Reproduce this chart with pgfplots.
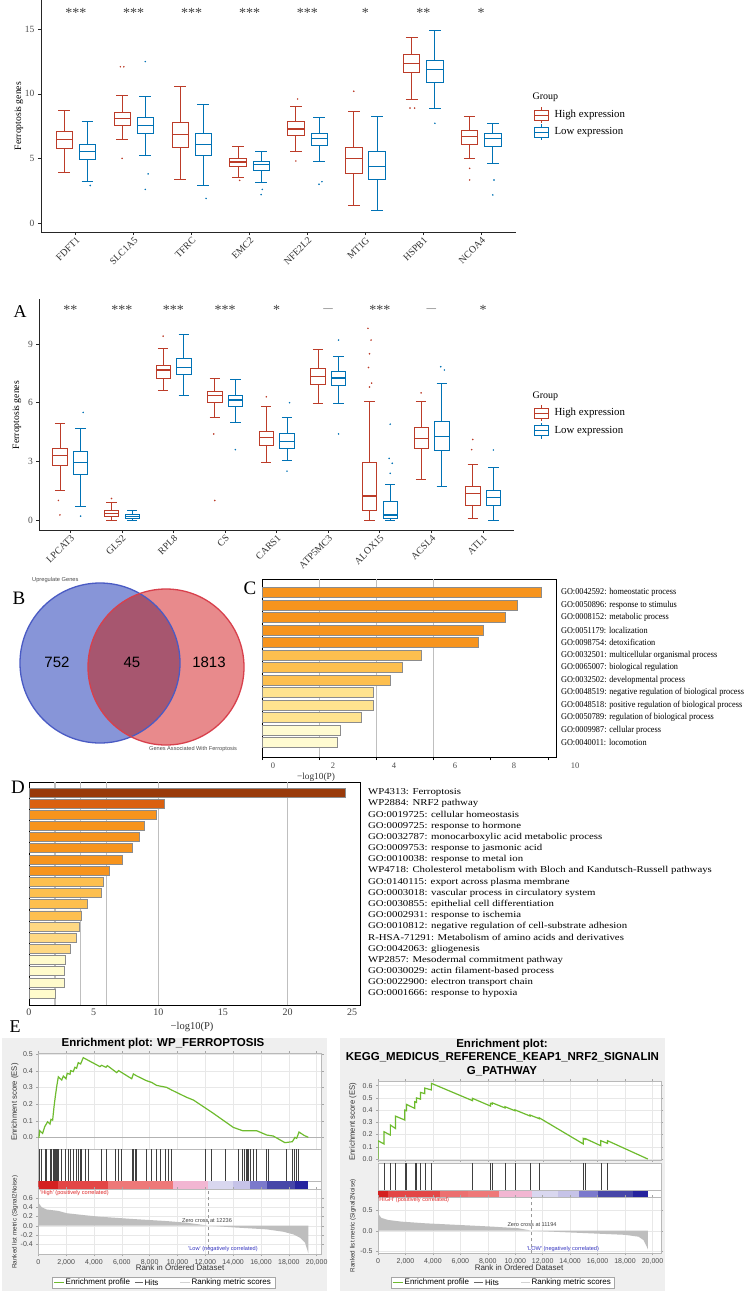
\documentclass[border=0pt]{standalone}
\usepackage{pgfplots}
\pgfplotsset{compat=1.18}
\usepgfplotslibrary{statistics}
\usepackage{fontspec}
\setmainfont{Liberation Serif}
\newfontfamily\arial{Liberation Sans}
\newcommand{\fs}[1]{\fontsize{#1}{#1}\selectfont}
\definecolor{nred}{HTML}{BC3C29}
\definecolor{nblue}{HTML}{0072B5}
\definecolor{cO}{HTML}{F7941D}
\definecolor{cM}{HTML}{FDBF4F}
\definecolor{cL}{HTML}{FFE38F}
\definecolor{cP}{HTML}{FFFBD1}
\definecolor{d1}{HTML}{993A0A}
\definecolor{d2}{HTML}{DA6010}
\definecolor{d5}{HTML}{FED883}
\definecolor{d6}{HTML}{FFFBCC}
\definecolor{vblue}{HTML}{8795D8}
\definecolor{vred}{HTML}{E88A8C}
\definecolor{vmix}{HTML}{A7566F}
\definecolor{vbluel}{HTML}{4A5BC4}
\definecolor{vredl}{HTML}{D8404C}
\definecolor{ggreen}{HTML}{6EBB2E}
\definecolor{gbg}{HTML}{EFEFEF}
\definecolor{rk}{HTML}{BEBEBE}
\definecolor{ca}{HTML}{D42020}
\definecolor{cb}{HTML}{E34646}
\definecolor{cc}{HTML}{EE7878}
\definecolor{cd}{HTML}{F2B6D2}
\definecolor{ce}{HTML}{D9D7EF}
\definecolor{cf}{HTML}{C6C3E8}
\definecolor{cg}{HTML}{7B79CC}
\definecolor{ch}{HTML}{4746A8}
\definecolor{ci}{HTML}{26239E}
\definecolor{hired}{HTML}{E02828}
\definecolor{loblue}{HTML}{3535C0}
\newcommand{\bx}[7]{\addplot[#1, line width=0.8pt, boxplot prepared={draw position=#2, lower whisker=#3, lower quartile=#4, median=#5, upper quartile=#6, upper whisker=#7}] coordinates {};}
\newcommand{\st}[3]{\node[font=\fs{14}, anchor=base, text=black!75] at (axis cs:#1,#2) {#3};}
\pgfplotsset{
 bxax/.style={scale only axis, axis x line*=bottom, axis y line*=left,
  axis line style={black!85, line width=0.9pt}, tick style={black!85, line width=0.7pt},
  tick align=outside, major tick length=3pt,
  x tick label style={rotate=45, anchor=north east, font=\fs{9.8}, text=black!80, inner sep=0.8pt},
  y tick label style={font=\fs{9.5}, text=black!70},
  /pgf/number format/assume math mode=true,
  boxplot/draw direction=y, boxplot/box extend=0.28, boxplot/whisker extend=0.2,
  boxplot/every median/.style={line width=1.5pt}},
 gsea/.style={scale only axis, xmin=0, axis background/.style={fill=white},
  axis line style={gray!55, line width=0.5pt}, tick style={gray!70, line width=0.4pt},
  major tick length=2pt, tick align=outside, grid=major, grid style={gray!18, line width=0.4pt},
  tick label style={font=\arial\fs{7}, text=black!70},
  /pgf/number format/assume math mode=true, xtick={0,2,4,6,8,10,12,14,16,18,20}, xticklabels={}},
 nol/.style={ytick=\empty, xtick=\empty, grid=none}
}
\begin{document}
\begin{tikzpicture}[x=1pt,y=1pt]
\useasboundingbox (0,0) rectangle (751,-1291);
\fill[white] (0,0) rectangle (751,-1291);

% ---------- Panel 1 ----------
\begin{axis}[bxax, at={(41pt,-232pt)}, anchor=south west, width=475pt, height=232pt,
 xmin=0.4, xmax=8.6, ymin=-0.7, ymax=17.27, xtick={1,...,8},
 xticklabels={FDFT1,SLC1A5,TFRC,EMC2,NFE2L2,MT1G,HSPB1,NCOA4}, ytick={0,5,10,15}]
\bx{nred}{0.8}{3.9}{5.78}{6.48}{7.07}{8.75}
\bx{nblue}{1.2}{3.2}{4.93}{5.53}{6.12}{7.9}
\bx{nred}{1.8}{6.48}{7.57}{8.1}{8.55}{9.91}
\bx{nblue}{2.2}{5.27}{6.95}{7.54}{8.18}{9.79}
\bx{nred}{2.8}{3.41}{5.84}{6.87}{7.82}{10.6}
\bx{nblue}{3.2}{2.94}{5.22}{6.09}{6.92}{9.17}
\bx{nred}{3.8}{3.56}{4.42}{4.72}{4.98}{5.91}
\bx{nblue}{4.2}{3.18}{4.08}{4.52}{4.78}{5.58}
\bx{nred}{4.8}{5.55}{6.79}{7.26}{7.9}{9.01}
\bx{nblue}{5.2}{4.8}{6.02}{6.56}{6.95}{8.16}
\bx{nred}{5.8}{1.34}{3.87}{4.98}{5.86}{8.65}
\bx{nblue}{6.2}{0.96}{3.38}{4.36}{5.55}{8.24}
\bx{nred}{6.8}{9.58}{11.64}{12.37}{13.07}{14.36}
\bx{nblue}{7.2}{8.91}{10.87}{11.9}{12.6}{14.92}
\bx{nred}{7.8}{4.98}{6.12}{6.69}{7.15}{8.24}
\bx{nblue}{8.2}{4.62}{5.96}{6.56}{6.95}{7.72}
\addplot[only marks, mark=*, mark size=0.55pt, nred, mark options={draw=none, fill=nred}] coordinates {(1.77,12.1)(1.83,12.1)(1.8,5.0)(3.83,3.3)(4.83,9.6)(4.8,4.8)(5.8,10.2)(6.77,8.9)(6.85,8.9)(7.8,4.23)(7.8,3.33)};
\addplot[only marks, mark=*, mark size=0.55pt, nblue, mark options={draw=none, fill=nblue}] coordinates {(1.25,2.9)(2.2,12.5)(2.25,3.8)(2.2,2.6)(3.25,1.9)(4.2,2.2)(4.22,2.6)(5.2,3.0)(5.25,3.2)(7.2,7.72)(8.2,2.17)(8.22,3.33)};
\st{1}{15.91}{***}\st{2}{15.91}{***}\st{3}{15.91}{***}\st{4}{15.91}{***}
\st{5}{15.91}{***}\st{6}{15.91}{*}\st{7}{15.91}{**}\st{8}{15.91}{*}
\end{axis}
\node[rotate=90, font=\fs{9.7}] at (19,-116) {Ferroptosis genes};
\node[anchor=west, font=\fs{10}] at (529,-97) {Group};
\foreach \yy/\cc/\tt in {115/nred/High expression,132/nblue/Low expression}{
 \draw[\cc, line width=0.8pt] (534,-\yy+5) rectangle (548,-\yy-5);
 \draw[\cc, line width=0.8pt] (534,-\yy) -- (548,-\yy);
 \draw[\cc, line width=0.8pt] (541,-\yy+5) -- (541,-\yy+8);
 \draw[\cc, line width=0.8pt] (541,-\yy-5) -- (541,-\yy-8);
 \node[anchor=west, font=\fs{10.8}] at (551,-\yy) {\tt};}

% ---------- Panel 2 (A) ----------
\begin{axis}[bxax, at={(39.3pt,-530pt)}, anchor=south west, width=474.7pt, height=231pt,
 xmin=0.4, xmax=9.6, ymin=-0.51, ymax=11.3, xtick={1,...,9},
 xticklabels={LPCAT3,GLS2,RPL8,CS,CARS1,ATP5MC3,ALOX15,ACSL4,ATL1}, ytick={0,3,6,9}]
\bx{nred}{0.8}{1.5}{2.78}{3.29}{3.66}{4.94}
\bx{nblue}{1.2}{0.68}{2.35}{2.95}{3.49}{4.69}
\bx{nred}{1.8}{0.0}{0.17}{0.34}{0.51}{0.9}
\bx{nblue}{2.2}{0.0}{0.07}{0.17}{0.29}{0.51}
\bx{nred}{2.8}{6.61}{7.26}{7.67}{7.89}{8.76}
\bx{nblue}{3.2}{6.36}{7.45}{7.81}{8.27}{9.49}
\bx{nred}{3.8}{5.27}{6.02}{6.36}{6.56}{7.24}
\bx{nblue}{4.2}{4.99}{5.8}{6.14}{6.37}{7.18}
\bx{nred}{4.8}{2.93}{3.84}{4.21}{4.52}{5.8}
\bx{nblue}{5.2}{3.07}{3.66}{4.01}{4.41}{5.23}
\bx{nred}{5.8}{5.97}{6.95}{7.33}{7.74}{8.74}
\bx{nblue}{6.2}{5.97}{6.89}{7.26}{7.6}{8.35}
\bx{nred}{6.8}{0.0}{0.48}{1.23}{2.95}{6.05}
\bx{nblue}{7.2}{0.0}{0.09}{0.26}{0.94}{1.82}
\bx{nred}{7.8}{2.08}{3.66}{4.18}{4.74}{6.05}
\bx{nblue}{8.2}{1.7}{3.58}{4.26}{5.03}{6.99}
\bx{nred}{8.8}{0.09}{0.77}{1.36}{1.74}{2.85}
\bx{nblue}{9.2}{0.0}{0.73}{1.14}{1.52}{2.69}
\addplot[only marks, mark=*, mark size=0.55pt, nred, mark options={draw=none, fill=nred}] coordinates {(0.8,0.26)(0.77,1.0)(1.8,1.1)(2.8,9.4)(3.8,1.0)(3.78,4.4)(4.8,6.3)(6.77,9.8)(6.83,9.2)(6.8,8.5)(6.78,7.8)(6.84,7.0)(6.8,6.8)(7.8,6.5)(8.8,4.12)(8.78,3.6)};
\addplot[only marks, mark=*, mark size=0.55pt, nblue, mark options={draw=none, fill=nblue}] coordinates {(1.25,5.5)(1.2,0.2)(4.2,3.6)(5.2,2.5)(5.25,6.0)(6.2,9.2)(6.2,4.4)(7.2,4.9)(7.18,3.15)(7.24,2.9)(7.2,2.39)(8.18,7.84)(8.25,7.67)(9.2,3.58)};
\st{1}{10.5}{**}\st{2}{10.5}{***}\st{3}{10.5}{***}\st{4}{10.5}{***}\st{5}{10.5}{*}
\st{7}{10.5}{***}\st{9}{10.5}{*}
\node[font=\fs{9.5}, anchor=base, text=black!75] at (axis cs:6,10.66) {—};
\node[font=\fs{9.5}, anchor=base, text=black!75] at (axis cs:8,10.66) {—};
\end{axis}
\node[rotate=90, font=\fs{9.7}] at (17,-415) {Ferroptosis genes};
\node[font=\fs{18}] at (20,-312) {A};
\node[anchor=west, font=\fs{10}] at (529,-396) {Group};
\foreach \yy/\cc/\tt in {413.3/nred/High expression,430.7/nblue/Low expression}{
 \draw[\cc, line width=0.8pt] (534,-\yy+5) rectangle (548,-\yy-5);
 \draw[\cc, line width=0.8pt] (534,-\yy) -- (548,-\yy);
 \draw[\cc, line width=0.8pt] (541,-\yy+5) -- (541,-\yy+8);
 \draw[\cc, line width=0.8pt] (541,-\yy-5) -- (541,-\yy-8);
 \node[anchor=west, font=\fs{10.8}] at (551,-\yy) {\tt};}

% ---------- Panel B (Venn) ----------
\fill[vblue] (100,-663) circle[radius=80pt];
\fill[vred] (166,-667) circle[radius=78pt];
\begin{scope}
\clip (100,-663) circle[radius=80pt];
\fill[vmix] (166,-667) circle[radius=78pt];
\end{scope}
\draw[vbluel, line width=1.3pt] (100,-663) circle[radius=80pt];
\draw[vredl, line width=1.3pt] (166,-667) circle[radius=78pt];
\node[font=\arial\fs{15}] at (57,-662) {752};
\node[font=\arial\fs{15}] at (132,-662) {45};
\node[font=\arial\fs{15}] at (209,-662) {1813};
\node[font=\arial\fs{5.7}, text=black!70, anchor=west, inner sep=0] at (32,-580) {Upregulate Genes};
\node[font=\arial\fs{5.6}, text=black!70, anchor=west, inner sep=0] at (149,-749.3) {Genes Associated With Ferroptosis};
\node[font=\fs{19}] at (19,-598.3) {B};
\node[font=\fs{19}] at (250,-588) {C};

% ---------- Panel C ----------
\begin{axis}[scale only axis, at={(262pt,-757pt)}, anchor=south west, width=294pt, height=178pt,
 xmin=0, xmax=10.28, ymin=-0.1, ymax=14.14, y dir=reverse, xbar, bar width=10pt, bar shift=0pt,
 axis line style={black, line width=0.8pt}, xtick={0,2,4,6,8,10}, xticklabels={}, xtick pos=left,
 tick align=outside, major tick length=3pt, xtick style={black, line width=0.6pt},
 ytick={1,...,13}, yticklabel pos=right, ytick style={draw=none},
 yticklabels={GO:0042592: homeostatic process,GO:0050896: response to stimulus,GO:0008152: metabolic process,GO:0051179: localization,GO:0098754: detoxification,GO:0032501: multicellular organismal process,GO:0065007: biological regulation,GO:0032502: developmental process,GO:0048519: negative regulation of biological process,GO:0048518: positive regulation of biological process,GO:0050789: regulation of biological process,GO:0009987: cellular process,GO:0040011: locomotion},
 y tick label style={font=\fs{9}, xscale=0.92, anchor=west, inner sep=0pt, xshift=2pt},
 extra x ticks={2,4,6}, extra x tick labels={}, extra x tick style={grid=major, major tick length=0pt},
 major grid style={black!25, line width=1.3pt}]
\addplot[fill=cO, draw=black!45, line width=0.8pt] coordinates {(9.78,1)(8.94,2)(8.50,3)(7.74,4)(7.56,5)};
\addplot[fill=cM, draw=black!45, line width=0.8pt] coordinates {(5.58,6)(4.91,7)(4.49,8)};
\addplot[fill=cL, draw=black!45, line width=0.8pt] coordinates {(3.90,9)(3.90,10)(3.46,11)};
\addplot[fill=cP, draw=black!45, line width=0.8pt] coordinates {(2.73,12)(2.63,13)};
\end{axis}
\foreach \xx/\tt in {273/0,333/2,394/4,455/6,514/8,575/10}{
 \node[font=\fs{8.5}, text=black!70] at (\xx,-766) {\tt};}
\node[font=\fs{9.3}, text=black!80] at (316,-777) {−log10(P)};

% ---------- Panel D ----------
\begin{axis}[scale only axis, at={(29pt,-1005pt)}, anchor=south west, width=331pt, height=223pt,
 xmin=0, xmax=25.6, ymin=0.06, ymax=20.02, y dir=reverse, xbar, bar width=9pt, bar shift=0pt,
 axis line style={black, line width=0.8pt}, xtick={0,5,10,15,20,25}, xtick style={draw=none},
 x tick label style={font=\fs{10}, text=black!75}, /pgf/number format/assume math mode=true,
 ytick={1,...,19}, yticklabel pos=right, ytick style={draw=none},
 yticklabels={WP4313: Ferroptosis,WP2884: NRF2 pathway,GO:0019725: cellular homeostasis,GO:0009725: response to hormone,GO:0032787: monocarboxylic acid metabolic process,GO:0009753: response to jasmonic acid,GO:0010038: response to metal ion,WP4718: Cholesterol metabolism with Bloch and Kandutsch-Russell pathways,GO:0140115: export across plasma membrane,GO:0003018: vascular process in circulatory system,GO:0030855: epithelial cell differentiation,GO:0002931: response to ischemia,GO:0010812: negative regulation of cell-substrate adhesion,R-HSA-71291: Metabolism of amino acids and derivatives,GO:0042063: gliogenesis,WP2857: Mesodermal commitment pathway,GO:0030029: actin filament-based process,GO:0022900: electron transport chain,GO:0001666: response to hypoxia},
 y tick label style={font=\fs{9}, xscale=1.2, anchor=west, inner sep=0pt, xshift=3pt},
 extra x ticks={2,4,6,10,20}, extra x tick labels={}, extra x tick style={grid=major},
 major grid style={black!25, line width=1.3pt}]
\addplot[fill=d1, draw=black!45, line width=0.8pt] coordinates {(24.5,1)};
\addplot[fill=d2, draw=black!45, line width=0.8pt] coordinates {(10.49,2)};
\addplot[fill=cO, draw=black!45, line width=0.8pt] coordinates {(9.82,3)(8.94,4)(8.5,5)(7.96,6)(7.21,7)(6.18,8)};
\addplot[fill=cM, draw=black!45, line width=0.8pt] coordinates {(5.72,9)(5.59,10)(4.5,11)(4.09,12)};
\addplot[fill=d5, draw=black!45, line width=0.8pt] coordinates {(3.91,13)(3.65,14)(3.24,15)};
\addplot[fill=d6, draw=black!45, line width=0.8pt] coordinates {(2.83,16)(2.75,17)(2.7,18)(2.08,19)};
\end{axis}
\node[font=\fs{19}] at (18,-787) {D};
\node[font=\fs{10.5}, text=black!80] at (192,-1027) {−log10(P)};
\node[font=\fs{18}] at (15,-1027) {E};

% ---------- Panel E ----------
\fill[gbg] (2,-1038) rectangle (327,-1291);
\fill[gbg] (340,-1038) rectangle (665,-1291);
\node[font=\arial\bfseries\fs{11.5}] at (163,-1044) {Enrichment plot: WP\_FERROPTOSIS};
\node[font=\arial\bfseries\fs{11.5}] at (502,-1044.3) {Enrichment plot:};
\node[font=\arial\bfseries\fs{11.5}] at (502.5,-1057) {KEGG\_MEDICUS\_REFERENCE\_KEAP1\_NRF2\_SIGNALIN};
\node[font=\arial\bfseries\fs{11.5}] at (502,-1070.7) {G\_PATHWAY};

% left ES
\begin{axis}[gsea, at={(38.3pt,-1149.3pt)}, anchor=south west, width=283.4pt, height=96.3pt,
 xmax=20.36, ymin=-0.072, ymax=0.508, ytick={0,0.1,0.2,0.3,0.4,0.5}, yticklabels={0.0,0.1,0.2,0.3,0.4,0.5}]
\addplot[gray!60, line width=0.6pt] coordinates {(0,0)(20.36,0)};
\addplot[ggreen, line width=1.2pt] coordinates {(0,0)(0.05,0.0)(0.10,0.040)(0.31,0.024)(0.46,0.064)(0.67,0.094)(0.84,0.080)(0.91,0.108)(1.03,0.104)(1.13,0.185)(1.22,0.245)(1.32,0.305)(1.44,0.365)(1.68,0.345)(1.80,0.369)(1.99,0.353)(2.08,0.386)(2.28,0.380)(2.32,0.402)(2.51,0.396)(2.63,0.422)(2.75,0.416)(2.87,0.450)(3.04,0.442)(3.23,0.480)(4.43,0.426)(4.55,0.434)(4.86,0.422)(4.96,0.432)(5.63,0.390)(5.77,0.402)(6.71,0.353)(6.83,0.382)(7.07,0.370)(7.78,0.341)(8.14,0.331)(8.50,0.313)(9.22,0.301)(9.58,0.285)(10.66,0.241)(11.14,0.225)(12.57,0.145)(14.01,0.060)(14.68,0.040)(15.69,0.040)(16.41,0.014)(16.88,0.008)(17.72,-0.032)(18.25,-0.026)(18.44,0.0)(18.56,-0.006)(18.73,0.032)(19.09,0.012)(19.40,0.0)};
\end{axis}
\begin{axis}[gsea, nol, at={(38.3pt,-1181pt)}, anchor=south west, width=283.4pt, height=31.7pt, xmax=20.36, ymin=0, ymax=1]
\addplot[ycomb, black!75, line width=0.5pt, mark=none] coordinates {(0.07,1)(0.24,1)(0.48,1)(0.60,1)(0.84,1)(0.96,1)(1.08,1)(1.15,1)(1.20,1)(1.27,1)(1.32,1)(1.37,1)(1.44,1)(1.68,1)(1.92,1)(2.16,1)(2.28,1)(2.51,1)(2.71,1)(2.87,1)(2.99,1)(3.11,1)(3.35,1)(3.59,1)(4.55,1)(4.86,1)(5.51,1)(5.75,1)(5.99,1)(6.78,1)(6.83,1)(6.95,1)(7.07,1)(7.78,1)(8.14,1)(8.50,1)(8.74,1)(9.10,1)(9.34,1)(9.58,1)(11.98,1)(12.45,1)(13.41,1)(14.37,1)(14.68,1)(14.80,1)(14.92,1)(15.02,1)(15.09,1)(15.21,1)(15.45,1)(15.69,1)(16.41,1)(16.53,1)(17.84,1)(18.25,1)(18.37,1)(18.56,1)(18.68,1)};
\end{axis}
\begin{axis}[gsea, nol, at={(38.3pt,-1189.3pt)}, anchor=south west, width=283.4pt, height=8.3pt, xmax=20.36, ymin=0, ymax=1]
\fill[ca] (axis cs:0,0) rectangle (axis cs:1.44,1);
\fill[cb] (axis cs:1.44,0) rectangle (axis cs:5.03,1);
\fill[cc] (axis cs:5.03,0) rectangle (axis cs:9.70,1);
\fill[cd] (axis cs:9.70,0) rectangle (axis cs:12.21,1);
\fill[ce] (axis cs:12.21,0) rectangle (axis cs:14.01,1);
\fill[cf] (axis cs:14.01,0) rectangle (axis cs:15.21,1);
\fill[cg] (axis cs:15.21,0) rectangle (axis cs:16.41,1);
\fill[ch] (axis cs:16.41,0) rectangle (axis cs:18.44,1);
\fill[ci] (axis cs:18.44,0) rectangle (axis cs:19.40,1);
\end{axis}
\begin{axis}[gsea, at={(38.3pt,-1254.3pt)}, anchor=south west, width=283.4pt, height=65pt,
 xmax=20.36, ymin=-0.618, ymax=0.786, ytick={-0.4,-0.2,0,0.2,0.4,0.6}, yticklabels={-0.4,-0.2,0.0,0.2,0.4,0.6},
 xticklabels={0,{2,000},{4,000},{6,000},{8,000},{10,000},{12,000},{14,000},{16,000},{18,000},{20,000}}]
\addplot[fill=rk, draw=none] coordinates {(0,0)(0,0.50)(0.24,0.40)(0.60,0.35)(1.44,0.32)(2.04,0.27)(3.23,0.23)(4.43,0.194)(6.83,0.144)(9.22,0.10)(10.66,0.065)(12.24,0)(14.01,-0.036)(16.41,-0.079)(17.6,-0.13)(18.32,-0.187)(18.8,-0.26)(19.16,-0.367)(19.33,-0.525)(19.40,-0.60)(19.40,0)} --cycle;
\addplot[gray!80, dashed, line width=0.4pt] coordinates {(12.236,-0.618)(12.236,0.786)};
\end{axis}
\node[rotate=90, font=\arial\fs{7.7}, text=black!80] at (15,-1102) {Enrichment score (ES)};
\node[rotate=90, font=\arial\fs{6.3}, text=black!80] at (15,-1222) {Ranked list metric (Signal2Noise)};
\node[font=\arial\fs{5.6}, text=hired, anchor=west, inner sep=0] at (40,-1192.7) {'High' (positively correlated)};
\node[font=\arial\fs{5.6}, text=black!75] at (207,-1221) {Zero cross at 12236};
\node[font=\arial\fs{5.6}, text=loblue] at (223,-1248.7) {'Low' (negatively correlated)};
\node[font=\arial\fs{8}, text=black!80] at (180,-1268) {Rank in Ordered Dataset};
\draw[gray!70, fill=white, line width=0.5pt] (52,-1277) rectangle (275,-1288);
\draw[ggreen, line width=1.2pt] (54,-1282.5) -- (64,-1282.5);
\node[anchor=west, font=\arial\fs{8}, inner sep=1pt] at (64.5,-1282.5) {Enrichment profile};
\draw[black!60, line width=0.8pt] (135,-1282.5) -- (143,-1282.5);
\node[anchor=west, font=\arial\fs{8}, inner sep=1pt] at (143.5,-1282.5) {Hits};
\draw[gray!35, line width=1.5pt] (180,-1282.5) -- (190,-1282.5);
\node[anchor=west, font=\arial\fs{8}, inner sep=1pt] at (190.5,-1282.5) {Ranking metric scores};

% right ES
\begin{axis}[gsea, at={(378pt,-1160pt)}, anchor=south west, width=283pt, height=79pt,
 xmax=20.62, ymin=-0.008, ymax=0.638, ytick={0,0.1,0.2,0.3,0.4,0.5,0.6}, yticklabels={0.0,0.1,0.2,0.3,0.4,0.5,0.6}]
\addplot[ggreen, line width=1.2pt] coordinates {(0,0)(0,0.15)(0.44,0.123)(0.44,0.223)(0.90,0.196)(0.90,0.278)(1.27,0.25)(1.27,0.351)(1.95,0.319)(1.95,0.40)(2.07,0.395)(2.07,0.447)(2.68,0.414)(2.68,0.469)(2.80,0.463)(2.80,0.50)(3.09,0.49)(3.09,0.545)(3.41,0.535)(3.41,0.58)(3.89,0.565)(3.89,0.619)(6.89,0.477)(6.89,0.496)(8.20,0.433)(8.20,0.455)(8.32,0.45)(8.32,0.46)(9.25,0.418)(9.25,0.428)(9.98,0.395)(9.98,0.402)(11.07,0.352)(11.07,0.36)(11.75,0.33)(11.75,0.337)(14.96,0.123)(14.96,0.169)(15.09,0.161)(15.09,0.168)(16.23,0.109)(16.23,0.150)(16.72,0.128)(16.72,0.150)(19.66,0)};
\end{axis}
\begin{axis}[gsea, nol, at={(378pt,-1190.7pt)}, anchor=south west, width=283pt, height=27.4pt, xmax=20.62, ymin=0, ymax=1]
\addplot[ycomb, black!75, line width=0.5pt, mark=none] coordinates {(0.44,1)(0.90,1)(1.27,1)(1.95,1)(2.07,1)(2.68,1)(2.80,1)(3.09,1)(3.41,1)(3.89,1)(6.89,1)(8.20,1)(8.32,1)(9.25,1)(9.98,1)(11.07,1)(11.75,1)(14.96,1)(15.09,1)(16.23,1)(16.72,1)};
\end{axis}
\begin{axis}[gsea, nol, at={(378pt,-1197.3pt)}, anchor=south west, width=283pt, height=6.6pt, xmax=20.62, ymin=0, ymax=1]
\fill[ca] (axis cs:0,0) rectangle (axis cs:0.73,1);
\fill[cb] (axis cs:0.73,0) rectangle (axis cs:4.5,1);
\fill[cc!85!cb] (axis cs:4.5,0) rectangle (axis cs:6.57,1);
\fill[cc] (axis cs:6.57,0) rectangle (axis cs:8.81,1);
\fill[cd] (axis cs:8.81,0) rectangle (axis cs:11.19,1);
\fill[ce] (axis cs:11.19,0) rectangle (axis cs:13.14,1);
\fill[cf] (axis cs:13.14,0) rectangle (axis cs:14.65,1);
\fill[cg] (axis cs:14.65,0) rectangle (axis cs:16.0,1);
\fill[ch] (axis cs:16.0,0) rectangle (axis cs:18.6,1);
\fill[ci] (axis cs:18.6,0) rectangle (axis cs:19.66,1);
\end{axis}
\begin{axis}[gsea, at={(378pt,-1253.3pt)}, anchor=south west, width=283pt, height=56pt,
 xmax=20.62, ymin=-0.547, ymax=0.808, ytick={-0.5,0,0.5}, yticklabels={-0.5,0.0,0.5},
 xticklabels={0,{2,000},{4,000},{6,000},{8,000},{10,000},{12,000},{14,000},{16,000},{18,000},{20,000}}]
\addplot[fill=rk, draw=none] coordinates {(0,0)(0,0.42)(0.24,0.31)(0.73,0.26)(1.70,0.22)(3.41,0.18)(5.84,0.14)(8.27,0.10)(10.22,0.06)(11.19,0)(13.14,-0.03)(15.57,-0.065)(18.0,-0.10)(18.98,-0.145)(19.34,-0.226)(19.59,-0.39)(19.66,-0.45)(19.66,0)} --cycle;
\addplot[gray!80, dashed, line width=0.4pt] coordinates {(11.194,-0.547)(11.194,0.808)};
\end{axis}
\node[rotate=90, font=\arial\fs{7.7}, text=black!80] at (353,-1121.7) {Enrichment score (ES)};
\node[rotate=90, font=\arial\fs{6.3}, text=black!80] at (353,-1225.7) {Ranked list metric (Signal2Noise)};
\node[font=\arial\fs{5.6}, text=hired, anchor=west, inner sep=0] at (378,-1200) {'HIGH' (positively correlated)};
\node[font=\arial\fs{5.6}, text=black!75] at (532,-1225) {Zero cross at 11194};
\node[font=\arial\fs{5.6}, text=loblue] at (563,-1249) {'LOW' (negatively correlated)};
\node[font=\arial\fs{8}, text=black!80] at (519,-1268) {Rank in Ordered Dataset};
\draw[gray!70, fill=white, line width=0.5pt] (391,-1277) rectangle (614,-1288);
\draw[ggreen, line width=1.2pt] (392.5,-1282.5) -- (403,-1282.5);
\node[anchor=west, font=\arial\fs{8}, inner sep=1pt] at (403.5,-1282.5) {Enrichment profile};
\draw[black!60, line width=0.8pt] (474,-1282.5) -- (483,-1282.5);
\node[anchor=west, font=\arial\fs{8}, inner sep=1pt] at (484,-1282.5) {Hits};
\draw[gray!35, line width=1.5pt] (521,-1282.5) -- (530,-1282.5);
\node[anchor=west, font=\arial\fs{8}, inner sep=1pt] at (530.5,-1282.5) {Ranking metric scores};
\end{tikzpicture}
\end{document}
